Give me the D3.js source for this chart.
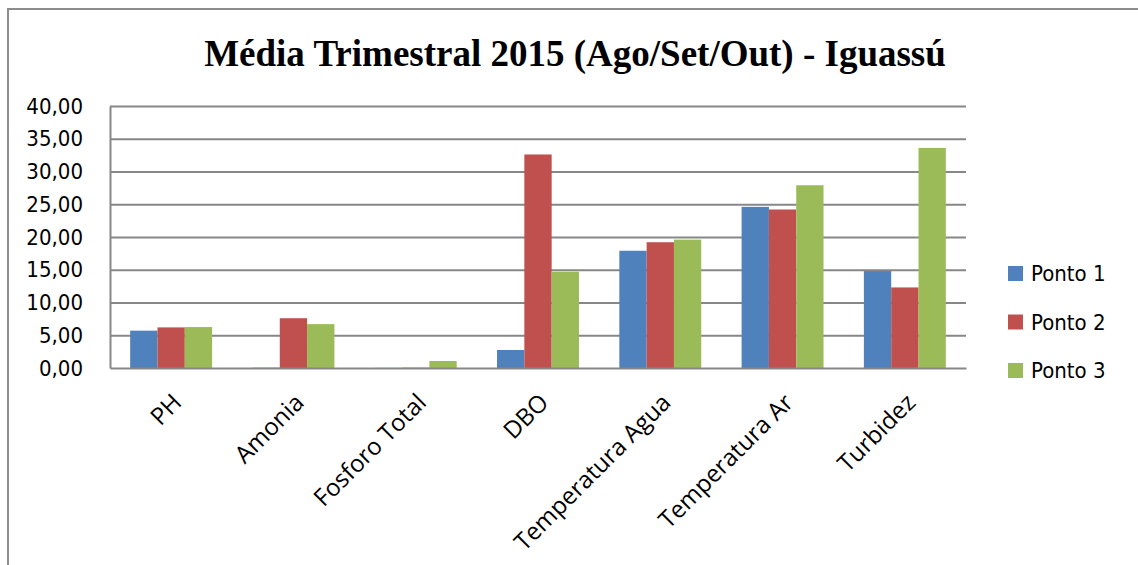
<!DOCTYPE html>
<html>
<head>
<meta charset="utf-8">
<script src="https://cdn.jsdelivr.net/npm/d3@7"></script>
<style>
  body { margin: 0; background: #fff; }
  svg { display: block; }
</style>
</head>
<body>
<svg id="chart"></svg>
<script>
// chart data
const categories = ["PH", "Amonia", "Fosforo Total", "DBO", "Temperatura Agua", "Temperatura Ar", "Turbidez"];
const seriesNames = ["Ponto 1", "Ponto 2", "Ponto 3"];
const ponto1 = [5.7, 0.05, 0.02, 2.75, 17.9, 24.6, 14.8];
const ponto2 = [6.2, 7.6, 0.05, 32.6, 19.2, 24.2, 12.3];
const ponto3 = [6.25, 6.7, 1.07, 14.7, 19.6, 27.9, 33.6];
const yTicks = [0, 5, 10, 15, 20, 25, 30, 35, 40];
const colors = ["#4F81BD", "#C0504D", "#9BBB59"];

const W = 1138, H = 565;
const svg = d3.select("#chart").attr("width", W).attr("height", H);

// outer frame
svg.append("path")
  .attr("d", `M8,${H} V9 H${W}`)
  .attr("fill", "none")
  .attr("stroke", "#8c8c8c")
  .attr("stroke-width", 2);

// title
svg.append("text")
  .attr("x", 575)
  .attr("y", 66)
  .attr("text-anchor", "middle")
  .style("font-family", "'Liberation Serif', 'Times New Roman', serif")
  .style("font-weight", "bold")
  .style("font-size", "37px")
  .text("Média Trimestral 2015 (Ago/Set/Out) - Iguassú");

const plot = { left: 110, right: 966, top: 106, bottom: 368 };

const x0 = d3.scaleBand()
  .domain(categories)
  .range([plot.left, plot.right])
  .paddingInner(0.33)
  .paddingOuter(0.165);

const x1 = d3.scaleBand()
  .domain(seriesNames)
  .range([0, x0.bandwidth()]);

const y = d3.scaleLinear()
  .domain([0, 40])
  .range([plot.bottom, plot.top]);

// gridlines
const grid = svg.append("g")
  .attr("transform", `translate(${plot.left},0)`)
  .call(d3.axisLeft(y).tickValues(yTicks.slice(1)).tickSize(-(plot.right - plot.left)).tickFormat(""));
grid.select(".domain").remove();
grid.selectAll("line").attr("stroke", "#878787").attr("stroke-width", 2);

// bars
const rows = categories.map((c, i) => ({ cat: c, vals: [ponto1[i], ponto2[i], ponto3[i]] }));
svg.append("g")
  .selectAll("g")
  .data(rows)
  .join("g")
    .attr("transform", d => `translate(${x0(d.cat)},0)`)
  .selectAll("rect")
  .data(d => d.vals.map((v, k) => ({ name: seriesNames[k], v: v, k: k })))
  .join("rect")
    .attr("x", d => x1(d.name))
    .attr("width", x1.bandwidth())
    .attr("y", d => y(d.v))
    .attr("height", d => y(0) - y(d.v))
    .attr("fill", d => colors[d.k]);

// y axis
const yAxis = svg.append("g")
  .attr("transform", `translate(${plot.left},0)`)
  .call(d3.axisLeft(y).tickValues(yTicks).tickSize(0).tickPadding(27)
    .tickFormat(d => d3.format(".2f")(d).replace(".", ",")));
yAxis.select(".domain").attr("stroke", "#878787").attr("stroke-width", 2);
yAxis.selectAll("text")
  .style("font-family", "'DejaVu Sans Condensed', 'DejaVu Sans', sans-serif")
  .style("font-size", "22px")
  .attr("fill", "#000");

// x axis line
const xAxis = svg.append("g")
  .attr("transform", `translate(0,${plot.bottom})`)
  .call(d3.axisBottom(x0).tickSize(0).tickFormat(""));
xAxis.select(".domain").attr("stroke", "#878787").attr("stroke-width", 2);

// category labels, rotated
svg.append("g")
  .selectAll("text")
  .data(categories)
  .join("text")
    .attr("transform", d => `translate(${x0(d) + x0.bandwidth() / 2 + 12},${plot.bottom + 36}) rotate(-45)`)
    .attr("text-anchor", "end")
    .style("font-family", "'Open Sans', sans-serif")
    .style("font-size", "24px")
    .attr("fill", "#000")
    .text(d => d);

// legend
const legend = svg.append("g")
  .selectAll("g")
  .data(seriesNames)
  .join("g")
    .attr("transform", (d, i) => `translate(1008,${273 + i * 48.5})`);
legend.append("rect")
  .attr("x", 0)
  .attr("y", -7)
  .attr("width", 15)
  .attr("height", 15)
  .attr("fill", (d, i) => colors[i]);
legend.append("text")
  .attr("x", 23)
  .attr("y", 8)
  .style("font-family", "'DejaVu Sans Condensed', 'DejaVu Sans', sans-serif")
  .style("font-size", "22px")
  .text(d => d);
</script>
</body>
</html>
